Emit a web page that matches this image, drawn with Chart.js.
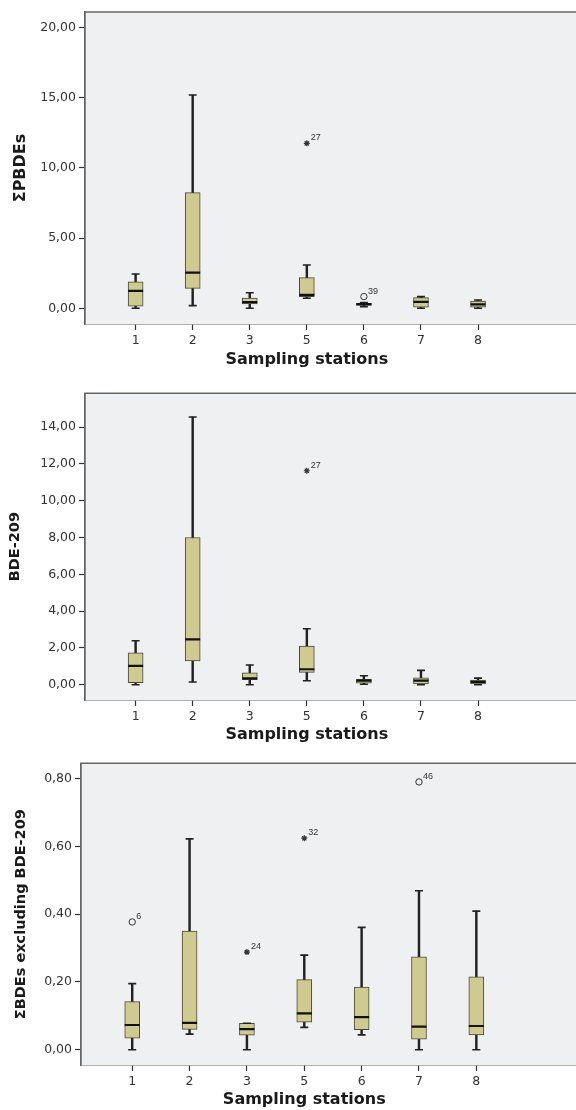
<!DOCTYPE html>
<html>
<head>
<meta charset="utf-8">
<script src="https://cdn.jsdelivr.net/npm/chart.js@4.4.0/dist/chart.umd.min.js"></script>
<style>
html, body { margin: 0; padding: 0; background: #fff; }
#wrap { position: relative; width: 576px; height: 1110px; overflow: hidden; }
.panel { position: absolute; left: 0; }
</style>
</head>
<body>
<div id="wrap">
  <div class="panel" style="top:0px"><canvas id="c1" width="600" height="375"></canvas></div>
  <div class="panel" style="top:375px"><canvas id="c2" width="600" height="372"></canvas></div>
  <div class="panel" style="top:747px"><canvas id="c3" width="600" height="363"></canvas></div>
</div>
<script>
const stations = ['1', '2', '3', '5', '6', '7', '8'];
const xTitle = 'Sampling stations';

// ΣPBDEs
const pbdeMin = [0.00, 0.19, 0.00, 0.71, 0.12, 0.00, 0.00];
const pbdeQ1  = [0.15, 1.42, 0.31, 0.83, 0.20, 0.07, 0.07];
const pbdeMed = [1.24, 2.54, 0.44, 0.95, 0.30, 0.45, 0.28];
const pbdeQ3  = [1.88, 8.23, 0.73, 2.18, 0.35, 0.76, 0.52];
const pbdeMax = [2.44, 15.18, 1.10, 3.08, 0.40, 0.83, 0.59];
const pbdeOut = [{ st: '6', v: 0.83, id: '39' }];
const pbdeExt = [{ st: '5', v: 11.74, id: '27' }];
const pbdeTicks = [0, 5, 10, 15, 20];

// BDE-209
const b209Min = [0.00, 0.15, 0.00, 0.22, 0.03, 0.00, 0.00];
const b209Q1  = [0.11, 1.29, 0.28, 0.67, 0.09, 0.04, 0.04];
const b209Med = [1.03, 2.47, 0.35, 0.84, 0.22, 0.22, 0.16];
const b209Q3  = [1.74, 8.00, 0.65, 2.10, 0.29, 0.38, 0.25];
const b209Max = [2.39, 14.55, 1.07, 3.04, 0.49, 0.78, 0.36];
const b209Out = [];
const b209Ext = [{ st: '5', v: 11.63, id: '27' }];
const b209Ticks = [0, 2, 4, 6, 8, 10, 12, 14];

// ΣBDEs excluding BDE-209
const exclMin = [0.000, 0.046, 0.000, 0.066, 0.044, 0.000, 0.000];
const exclQ1  = [0.034, 0.060, 0.043, 0.081, 0.059, 0.031, 0.044];
const exclMed = [0.073, 0.079, 0.061, 0.107, 0.096, 0.068, 0.070];
const exclQ3  = [0.142, 0.350, 0.078, 0.207, 0.185, 0.274, 0.215];
const exclMax = [0.195, 0.622, 0.078, 0.279, 0.361, 0.469, 0.409];
const exclOut = [{ st: '1', v: 0.377, id: '6' }, { st: '7', v: 0.790, id: '46' }];
const exclExt = [{ st: '3', v: 0.288, id: '24' }, { st: '5', v: 0.624, id: '32' }];
const exclTicks = [0, 0.2, 0.4, 0.6, 0.8];

const BOX_FILL = '#cfcb8f';
const BOX_LINE = '#4a4a3a';
const DARK = '#222';
const PLOT_BG = '#eef0f2';

const frame = {
    id: 'frame',
    beforeDatasetsDraw(chart) {
        const { ctx, chartArea: a } = chart;
        ctx.save();
        ctx.fillStyle = PLOT_BG;
        ctx.fillRect(a.left, a.top, a.right - a.left + 20, a.bottom - a.top);
        ctx.strokeStyle = '#666';
        ctx.lineWidth = 1.5;
        ctx.beginPath();
        ctx.moveTo(a.left, a.bottom);
        ctx.lineTo(a.left, a.top);
        ctx.lineTo(a.right + 20, a.top);
        ctx.stroke();
        ctx.restore();
    },
    afterDraw(chart, args, opts) {
        const { ctx } = chart;
        ctx.save();
        // outlier case numbers
        ctx.fillStyle = '#333';
        ctx.font = '9px "Liberation Sans", Arial, sans-serif';
        ctx.textBaseline = 'alphabetic';
        ctx.textAlign = 'left';
        chart.data.datasets.forEach((ds, di) => {
            if (!ds.ids) return;
            chart.getDatasetMeta(di).data.forEach((pt, i) => {
                ctx.fillText(ds.ids[i], pt.x + 4, pt.y - 3);
            });
        });
        // x title, centred on the middle station like SPSS does
        const xs = chart.scales.x;
        const mid = (stations.length + 1) / 2;
        ctx.fillStyle = '#1a1a1a';
        ctx.font = 'bold 16px "DejaVu Sans"';
        ctx.textAlign = 'center';
        ctx.textBaseline = 'middle';
        ctx.fillText(xTitle, xs.getPixelForValue(mid), chart.height - opts.titleOffset);
        ctx.restore();
    }
};

function fmt(v) {
    return v.toFixed(2).replace('.', ',');
}

function buildPanel(id, p) {
    const xs = stations.map((s, i) => i + 1);
    const pos = st => stations.indexOf(st) + 1;
    const datasets = [
        {
            type: 'bar',
            data: xs.map((x, i) => ({ x: x, y: [p.min[i], p.max[i]] })),
            backgroundColor: DARK,
            borderWidth: 0,
            barThickness: 1.8,
            grouped: false,
            order: 3
        },
        {
            type: 'bar',
            data: xs.map((x, i) => ({ x: x, y: [p.q1[i], p.q3[i]] })),
            backgroundColor: BOX_FILL,
            borderColor: BOX_LINE,
            borderWidth: 1,
            borderSkipped: false,
            barThickness: 15,
            grouped: false,
            order: 2
        },
        {
            type: 'scatter',
            data: xs.map((x, i) => ({ x: x, y: p.med[i] })),
            pointStyle: 'line',
            radius: 7.5,
            borderWidth: 2.2,
            borderColor: '#111',
            order: 1
        },
        {
            type: 'scatter',
            data: xs.map((x, i) => ({ x: x, y: p.min[i] })).concat(xs.map((x, i) => ({ x: x, y: p.max[i] }))),
            pointStyle: 'line',
            radius: 4,
            borderWidth: 1.6,
            borderColor: DARK,
            order: 1
        },
        {
            type: 'scatter',
            data: p.out.map(o => ({ x: pos(o.st), y: o.v })),
            ids: p.out.map(o => o.id),
            pointStyle: 'circle',
            radius: 3.2,
            backgroundColor: 'rgba(0,0,0,0)',
            borderColor: '#333',
            borderWidth: 1,
            order: 1
        },
        {
            type: 'scatter',
            data: p.ext.map(o => ({ x: pos(o.st), y: o.v })),
            ids: p.ext.map(o => o.id),
            pointStyle: 'star',
            radius: 3,
            borderColor: '#333',
            borderWidth: 1.2,
            order: 1
        }
    ];

    new Chart(document.getElementById(id), {
        type: 'bar',
        data: { datasets: datasets },
        plugins: [frame],
        options: {
            responsive: false,
            animation: false,
            layout: { padding: { top: p.top, right: 0, bottom: 0, left: 0 } },
            plugins: {
                legend: { display: false },
                tooltip: { enabled: false },
                frame: { titleOffset: p.xTitleOffset }
            },
            scales: {
                x: {
                    type: 'linear',
                    offset: false,
                    min: p.xMin,
                    max: p.xMax,
                    afterBuildTicks: s => { s.ticks = xs.map(v => ({ value: v })); },
                    afterFit: s => { s.height = p.xHeight; },
                    ticks: {
                        callback: (v, i) => stations[i],
                        font: { family: 'DejaVu Sans', size: 12.5 },
                        color: '#333',
                        padding: 3,
                        maxRotation: 0
                    },
                    grid: { offset: false, drawOnChartArea: false, drawTicks: true, tickLength: 6, tickColor: '#333', tickWidth: 1.2 },
                    border: { display: true, color: '#666', width: 1.5 }
                },
                y: {
                    min: p.yMin,
                    max: p.yMax,
                    afterBuildTicks: s => { s.ticks = p.ticks.map(v => ({ value: v })); },
                    afterFit: s => { s.width = p.left; },
                    ticks: {
                        callback: v => fmt(v),
                        font: { family: 'DejaVu Sans', size: 12.5 },
                        color: '#333',
                        padding: 3
                    },
                    grid: { drawOnChartArea: false, drawTicks: true, tickLength: 6, tickColor: '#333', tickWidth: 1.2 },
                    border: { display: true, color: '#666', width: 1.5 },
                    title: {
                        display: true,
                        text: p.title,
                        color: '#1a1a1a',
                        font: { family: 'DejaVu Sans', size: p.titleSize, weight: 'bold' },
                        padding: { top: p.yTitlePad, bottom: 0 }
                    }
                }
            }
        }
    });
}

buildPanel('c1', {
    min: pbdeMin, q1: pbdeQ1, med: pbdeMed, q3: pbdeQ3, max: pbdeMax,
    out: pbdeOut, ext: pbdeExt, ticks: pbdeTicks, title: 'ΣPBDEs',
    top: 12, left: 85, xHeight: 51, xTitleOffset: 15, titleSize: 16, yTitlePad: 11.4,
    yMin: -1.12, yMax: 21.09, xMin: 0.113, xMax: 8.967
});
buildPanel('c2', {
    min: b209Min, q1: b209Q1, med: b209Med, q3: b209Q3, max: b209Max,
    out: b209Out, ext: b209Ext, ticks: b209Ticks, title: 'BDE-209',
    top: 18.3, left: 85, xHeight: 47, xTitleOffset: 12, titleSize: 14.5, yTitlePad: 6.3,
    yMin: -0.83, yMax: 15.84, xMin: 0.113, xMax: 8.967
});
buildPanel('c3', {
    min: exclMin, q1: exclQ1, med: exclMed, q3: exclQ3, max: exclMax,
    out: exclOut, ext: exclExt, ticks: exclTicks, title: 'ΣBDEs excluding BDE-209',
    top: 16.3, left: 81, xHeight: 45, xTitleOffset: 10, titleSize: 14.5, yTitlePad: 12.1,
    yMin: -0.045, yMax: 0.845, xMin: 0.107, xMax: 8.987
});
</script>
</body>
</html>
